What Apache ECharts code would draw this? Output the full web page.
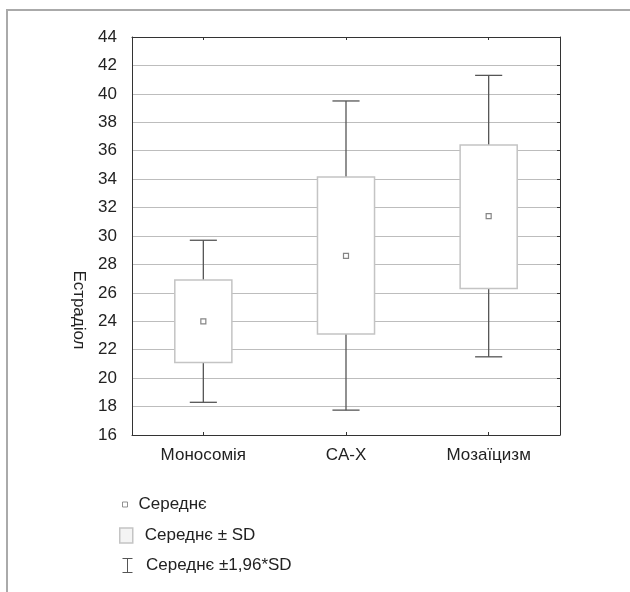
<!DOCTYPE html>
<html>
<head>
<meta charset="utf-8">
<script src="https://cdn.jsdelivr.net/npm/echarts@6/dist/echarts.min.js"></script>
<style>html,body{margin:0;padding:0;background:#fff;}#c{width:630px;height:592px;}</style>
</head>
<body>
<div id="c"></div>
<script>
var categories = ['Моносомія', 'CA-X', 'Мозаїцизм'];
var means = [24.0, 28.6, 31.4];
var sdLow = [21.1, 23.1, 26.3];
var sdHigh = [26.9, 34.15, 36.4];
var ciLow = [18.3, 17.75, 21.5];
var ciHigh = [29.7, 39.5, 41.3];
var yTicks = [16, 18, 20, 22, 24, 26, 28, 30, 32, 34, 36, 38, 40, 42, 44];
var yName = 'Естрадіол';
var legendNames = ['Середнє', 'Середнє ± SD', 'Середнє ±1,96*SD'];

var FONT = '"Liberation Sans", Arial, Helvetica, sans-serif';
var chart = echarts.init(document.getElementById('c'), null, {renderer: 'canvas'});

var boxData = categories.map(function (c, i) { return [i, sdLow[i], sdHigh[i]]; });
var whiskerData = categories.map(function (c, i) { return [i, ciLow[i], sdLow[i], sdHigh[i], ciHigh[i]]; });
var meanData = categories.map(function (c, i) { return [i, means[i]]; });

var option = {
  animation: false,
  backgroundColor: '#fff',
  textStyle: {fontFamily: FONT},
  grid: {left: 132, right: 70, top: 37, bottom: 157, containLabel: false},
  xAxis: [{
    type: 'category', data: categories, position: 'bottom',
    axisLine: {show: true, lineStyle: {color: '#333', width: 1}},
    axisTick: {show: true, inside: true, alignWithLabel: true, length: 3, lineStyle: {color: '#333'}},
    axisLabel: {color: '#222', fontSize: 17, margin: 12, fontFamily: FONT},
    splitLine: {show: false}
  }, {
    type: 'category', data: categories, position: 'top',
    axisLine: {show: true, lineStyle: {color: '#333', width: 1}},
    axisTick: {show: true, inside: true, alignWithLabel: true, length: 3, lineStyle: {color: '#333'}},
    axisLabel: {show: false},
    splitLine: {show: false}
  }],
  yAxis: [{
    type: 'value', min: yTicks[0], max: yTicks[yTicks.length - 1], interval: 2, position: 'left',
    axisLine: {show: true, lineStyle: {color: '#333', width: 1}},
    axisTick: {show: false},
    axisLabel: {color: '#222', fontSize: 17, margin: 15, fontFamily: FONT},
    splitLine: {show: true, lineStyle: {color: '#bdbdbd', width: 1}}
  }, {
    type: 'value', min: yTicks[0], max: yTicks[yTicks.length - 1], interval: 2, position: 'right',
    axisLine: {show: true, lineStyle: {color: '#333', width: 1}},
    axisTick: {show: true, inside: true, length: 3, lineStyle: {color: '#333'}},
    axisLabel: {show: false},
    splitLine: {show: false}
  }],
  legend: [{
    data: [{name: legendNames[0], icon: 'rect'}],
    left: 117, top: 491, itemWidth: 5, itemHeight: 5,
    itemStyle: {color: '#fff', borderColor: '#777', borderWidth: 1},
    textStyle: {color: '#222', fontSize: 17, fontFamily: FONT, padding: [0, 0, 0, 6]},
    selectedMode: false
  }, {
    data: [{name: legendNames[1], icon: 'rect'}],
    left: 114, top: 522, itemWidth: 13, itemHeight: 15,
    itemStyle: {color: '#f4f4f4', borderColor: '#c4c4c4', borderWidth: 1.5},
    textStyle: {color: '#222', fontSize: 17, fontFamily: FONT, padding: [0, 0, 0, 7]},
    selectedMode: false
  }, {
    data: [{name: legendNames[2], icon: 'path://M0,0H10M5,0V14M0,14H10'}],
    left: 115, top: 551, itemWidth: 11, itemHeight: 14,
    itemStyle: {color: 'none', borderColor: '#555', borderWidth: 1},
    textStyle: {color: '#222', fontSize: 17, fontFamily: FONT, padding: [0, 0, 0, 8]},
    selectedMode: false
  }],
  graphic: [{
    type: 'rect', silent: true, z: -10,
    shape: {x: 7, y: 10, width: 800, height: 800},
    style: {fill: 'none', stroke: '#aaaaaa', lineWidth: 2}
  }, {
    type: 'text', silent: true,
    x: 79, y: 310, rotation: -Math.PI / 2,
    style: {text: yName, fill: '#222', font: '17px ' + FONT, align: 'center', verticalAlign: 'middle'}
  }],
  series: [{
    name: legendNames[2], type: 'custom', z: 2,
    data: whiskerData,
    encode: {x: 0, y: [1, 2, 3, 4]},
    itemStyle: {color: 'none', borderColor: '#555'},
    renderItem: function (params, api) {
      var i = api.value(0);
      var pLo = api.coord([i, api.value(1)]);
      var pSl = api.coord([i, api.value(2)]);
      var pSh = api.coord([i, api.value(3)]);
      var pHi = api.coord([i, api.value(4)]);
      var half = api.size([1, 0])[0] * 0.095;
      var st = {stroke: '#555', lineWidth: 1.3, fill: 'none'};
      return {type: 'group', children: [
        {type: 'line', shape: {x1: pSh[0], y1: pSh[1], x2: pHi[0], y2: pHi[1]}, style: st},
        {type: 'line', shape: {x1: pHi[0] - half, y1: pHi[1], x2: pHi[0] + half, y2: pHi[1]}, style: st},
        {type: 'line', shape: {x1: pSl[0], y1: pSl[1], x2: pLo[0], y2: pLo[1]}, style: st},
        {type: 'line', shape: {x1: pLo[0] - half, y1: pLo[1], x2: pLo[0] + half, y2: pLo[1]}, style: st}
      ]};
    }
  }, {
    name: legendNames[1], type: 'custom', z: 3,
    data: boxData,
    encode: {x: 0, y: [1, 2]},
    itemStyle: {color: '#fff', borderColor: '#c4c4c4'},
    renderItem: function (params, api) {
      var i = api.value(0);
      var pLo = api.coord([i, api.value(1)]);
      var pHi = api.coord([i, api.value(2)]);
      var w = api.size([1, 0])[0] * 0.4;
      return {type: 'rect',
        shape: {x: pLo[0] - w / 2, y: pHi[1], width: w, height: pLo[1] - pHi[1]},
        style: {fill: '#fff', stroke: '#c4c4c4', lineWidth: 1.5}};
    }
  }, {
    name: legendNames[0], type: 'scatter', z: 4,
    data: meanData, symbol: 'rect', symbolSize: 5,
    itemStyle: {color: '#fff', borderColor: '#666', borderWidth: 1.2}
  }]
};
chart.setOption(option);
</script>
</body>
</html>
